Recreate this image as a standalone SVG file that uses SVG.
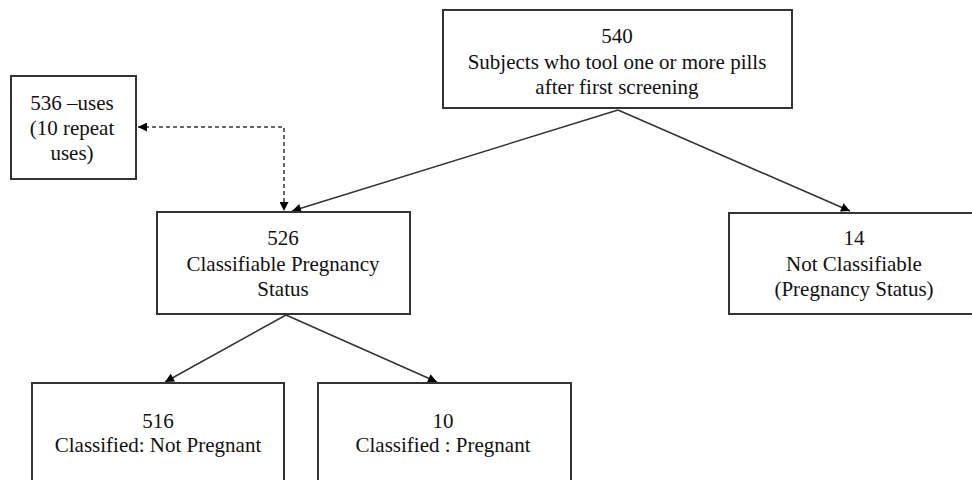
<svg xmlns="http://www.w3.org/2000/svg" width="972" height="480" viewBox="0 0 972 480">
<defs>
<style>
.box{fill:#fff;stroke:#333;stroke-width:2}
.t{font-size:21px;fill:#111;text-anchor:middle}
.c{fill:none;stroke:#333;stroke-width:1.5}
.d{fill:none;stroke:#333;stroke-width:1.5;stroke-dasharray:4 3}
</style>
<marker id="ah" viewBox="0 0 10 10" refX="10" refY="5" markerWidth="10" markerHeight="9" markerUnits="userSpaceOnUse" orient="auto-start-reverse">
<path d="M0,0 L10,5 L0,10 Z" fill="#000"/>
</marker>
</defs>
<rect width="972" height="480" fill="#fff"/>
<g id="connectors">
<path class="c" d="M618,110 L292,211" marker-end="url(#ah)"/>
<path class="c" d="M618,110 L850,211" marker-end="url(#ah)"/>
<path class="c" d="M286,315 L165,382" marker-end="url(#ah)"/>
<path class="c" d="M286,315 L437,382" marker-end="url(#ah)"/>
<path class="d" d="M138,127 H284 V211" marker-start="url(#ah)" marker-end="url(#ah)"/>
</g>
<g font-family="'Liberation Serif', 'DejaVu Serif', serif">
<g id="n540">
<rect class="box" x="443" y="10" width="349" height="98"/>
<text class="t" x="617" y="43">540</text>
<text class="t" x="617" y="69">Subjects who tool one or more pills</text>
<text class="t" x="617" y="94">after first screening</text>
</g>
<g id="n536">
<rect class="box" x="11" y="76" width="125" height="103"/>
<text class="t" x="72" y="110">536 –uses</text>
<text class="t" x="72" y="135">(10 repeat</text>
<text class="t" x="72" y="160">uses)</text>
</g>
<g id="n526">
<rect class="box" x="157" y="212" width="253" height="102"/>
<text class="t" x="283" y="245">526</text>
<text class="t" x="283" y="271">Classifiable Pregnancy</text>
<text class="t" x="283" y="296">Status</text>
</g>
<g id="n14">
<rect class="box" x="729" y="213" width="250" height="101"/>
<text class="t" x="854" y="245">14</text>
<text class="t" x="854" y="271">Not Classifiable</text>
<text class="t" x="854" y="296">(Pregnancy Status)</text>
</g>
<g id="n516">
<rect class="box" x="32" y="383" width="252" height="110"/>
<text class="t" x="158" y="428">516</text>
<text class="t" x="158" y="452">Classified: Not Pregnant</text>
</g>
<g id="n10">
<rect class="box" x="318" y="383" width="253" height="110"/>
<text class="t" x="443" y="428">10</text>
<text class="t" x="443" y="452">Classified : Pregnant</text>
</g>
</g>
</svg>
